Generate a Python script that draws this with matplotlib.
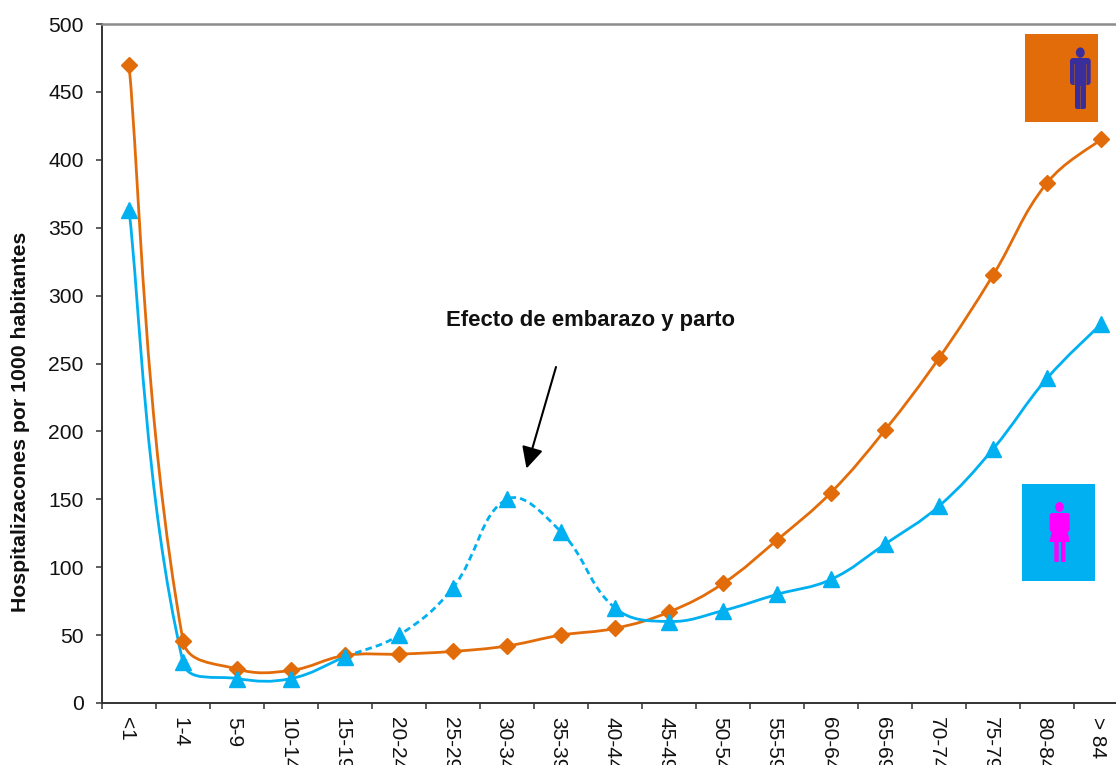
import matplotlib
matplotlib.use("Agg")
import matplotlib.pyplot as plt
from matplotlib.patches import PathPatch, Rectangle, FancyBboxPatch, Polygon, Ellipse
from matplotlib.path import Path
from matplotlib.transforms import ScaledTranslation
from math import hypot

plt.rcParams['font.family'] = ['Liberation Sans', 'DejaVu Sans']

grupos = ["<1", "1-4", "5-9", "10-14", "15-19", "20-24", "25-29", "30-34", "35-39", "40-44",
          "45-49", "50-54", "55-59", "60-64", "65-69", "70-74", "75-79", "80-84", "> 84"]
hombres = [470, 46, 25, 24, 35, 36, 38, 42, 50, 55, 67, 88, 120, 155, 201, 254, 315, 383, 415]
mujeres = [363, 30, 18, 18, 34, 50, 85, 150, 126, 70, 60, 68, 80, 91, 117, 145, 187, 239, 279]

NARANJA = "#E36C0A"
AZUL = "#00B0F0"
AZUL_HOMBRE = "#3A2E9C"
ROSA = "#FF00FF"

# pixeles por unidad, para que el suavizado se calcule en la escala que se ve
ESC_X = 54
ESC_Y = 679 / 500


def dist(ys, i, j):
    return hypot((j - i) * ESC_X, (ys[j] - ys[i]) * ESC_Y)


def curva(ax, ys, ini, fin, color, ls="-"):
    # suavizado tipo Excel: el control se acorta segun el largo de cada tramo
    k = 0.4
    n = len(ys) - 1
    verts = [(ini, ys[ini])]
    codes = [Path.MOVETO]
    for i in range(ini, fin):
        a, b, c, d = max(i - 1, 0), i, i + 1, min(i + 2, n)
        dab, dbc, dcd = dist(ys, a, b), dist(ys, b, c), dist(ys, c, d)
        f1 = k * dbc / (dab + dbc) if a != b else k * 0.5
        f2 = k * dbc / (dbc + dcd) if c != d else k * 0.5
        verts += [(b + (c - a) * f1, ys[b] + (ys[c] - ys[a]) * f1),
                  (c - (d - b) * f2, ys[c] - (ys[d] - ys[b]) * f2),
                  (c, ys[c])]
        codes += [Path.CURVE4] * 3
    ax.add_patch(PathPatch(Path(verts, codes), fc="none", ec=color, lw=2.0, ls=ls,
                           clip_on=False, zorder=3))


fig = plt.figure(figsize=(11.16, 7.65), dpi=100)
ax = fig.add_axes([102 / 1116, 62 / 765, 1026 / 1116, 679 / 765])

x = list(range(len(grupos)))
ax.set_xlim(-0.5, 18.5)
ax.set_ylim(0, 500)

curva(ax, hombres, 0, 18, NARANJA)
curva(ax, mujeres, 0, 4, AZUL)
curva(ax, mujeres, 4, 9, AZUL, ls=(0, (2.4, 1.5)))
curva(ax, mujeres, 9, 18, AZUL)

ax.plot(x, hombres, ls="none", marker="D", ms=8.3, color=NARANJA, clip_on=False, zorder=4)
ax.plot(x, mujeres, ls="none", marker="^", ms=12, color=AZUL, clip_on=False, zorder=5)

ax.set_xticks([i - 0.5 for i in range(20)])
ax.set_xticklabels([])
ax.set_xticks(x, minor=True)
ax.set_xticklabels(grupos, minor=True, rotation=270, fontsize=15, color="#111111")
ax.tick_params(axis="x", which="minor", length=0, pad=10)
ax.tick_params(axis="x", which="major", direction="out", length=4.2, width=1.1, color="#333333")
# las etiquetas rotadas quedan un poco a la derecha
for etiqueta in ax.get_xticklabels(minor=True):
    etiqueta.set_transform(etiqueta.get_transform() + ScaledTranslation(-3 / 100, 0, fig.dpi_scale_trans))
ax.set_yticks(range(0, 501, 50))
ax.tick_params(axis="y", direction="out", length=4.2, width=1.1, color="#333333",
               labelsize=15.2, labelcolor="#111111", pad=9)

for lado in ["left", "bottom"]:
    ax.spines[lado].set_linewidth(1.4)
    ax.spines[lado].set_color("#333333")
ax.spines["right"].set_visible(False)
ax.spines["top"].set_color("#8C8C8C")
ax.spines["top"].set_linewidth(1.8)

# capa en pixeles para anotacion e iconos
capa = fig.add_axes([0, 0, 1, 1])
capa.set_xlim(0, 1116)
capa.set_ylim(765, 0)
capa.axis("off")
capa.patch.set_alpha(0)

capa.text(21, 422, "Hospitalizacones por 1000 habitantes", rotation=90, ha="center", va="center",
          fontsize=15.3, fontweight="bold", color="#111111")
capa.text(591, 320, "Efecto de embarazo y parto", ha="center", va="center",
          fontsize=15.9, fontweight="bold", color="#111111")
capa.annotate("", xy=(526.5, 468.5), xytext=(556, 367),
              arrowprops=dict(arrowstyle="-|>,head_length=1.0,head_width=0.5", color="black", lw=1.5,
                              mutation_scale=13, shrinkA=0, shrinkB=0))

# icono hombre
capa.add_patch(Rectangle((1025, 34), 73, 88, fc=NARANJA, ec="none"))
capa.add_patch(Ellipse((1080.3, 52.6), 8.8, 10.4, fc=AZUL_HOMBRE, ec="none"))
capa.add_patch(FancyBboxPatch((1070, 58), 20.7, 27, boxstyle="round,pad=0,rounding_size=3",
                              fc=AZUL_HOMBRE, ec="none"))
capa.add_patch(FancyBboxPatch((1075, 60), 11, 49, boxstyle="round,pad=0,rounding_size=2",
                              fc=AZUL_HOMBRE, ec="none"))
capa.add_patch(Rectangle((1074.4, 64), 0.7, 21, fc="#7A4A50", ec="none"))
capa.add_patch(Rectangle((1085.8, 64), 0.7, 21, fc="#7A4A50", ec="none"))
capa.add_patch(Rectangle((1080.2, 86), 0.7, 23, fc="#7A4A50", ec="none"))

# icono mujer
capa.add_patch(Rectangle((1022, 484), 73, 97, fc=AZUL, ec="none"))
capa.add_patch(Ellipse((1059.5, 507), 8.6, 10, fc=ROSA, ec="none"))
capa.add_patch(FancyBboxPatch((1049.7, 513), 20, 19, boxstyle="round,pad=0,rounding_size=2.5",
                              fc=ROSA, ec="none"))
capa.add_patch(Polygon([(1054, 520), (1065, 520), (1070, 542), (1049.5, 542)], fc=ROSA, ec="none"))
capa.add_patch(FancyBboxPatch((1054.3, 540), 4.4, 22, boxstyle="round,pad=0,rounding_size=1.2",
                              fc=ROSA, ec="none"))
capa.add_patch(FancyBboxPatch((1061, 540), 4.4, 22, boxstyle="round,pad=0,rounding_size=1.2",
                              fc=ROSA, ec="none"))

fig.savefig("out.png", dpi=100)
